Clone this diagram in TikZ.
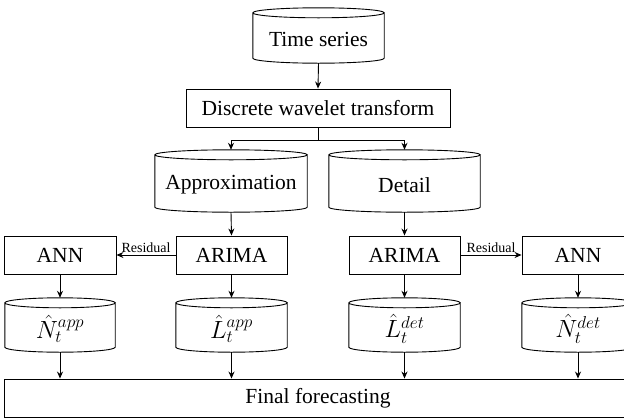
\documentclass[tikz,border=0pt]{standalone}
\usepackage{fontspec}
\setmainfont{Liberation Serif}
\usetikzlibrary{arrows.meta,calc}
\newcommand\cylt[1]{\raisebox{-4pt}[\height][\depth]{#1}}
\newcommand\mth[1]{\raisebox{-4pt}[\height][\depth]{\fontsize{23}{27}\selectfont$#1$}}
\newcommand\cylout[1]{%
  \draw[line width=0.9pt] let \p1=(#1.north west),\p2=(#1.south east),\n1={(\x2-\x1)/2} in
    (\x1,{\y1-5pt}) arc[start angle=180,end angle=540,x radius=\n1,y radius=5pt]
    -- (\x1,{\y2+5pt}) arc[start angle=180,end angle=360,x radius=\n1,y radius=5pt]
    -- (\x2,{\y1-5pt});}
\tikzset{
  big/.style={font=\fontsize{21.5}{25}\selectfont},
  boxnode/.style={big,draw,line width=0.9pt,inner sep=0pt,minimum height=38pt},
  cylnode/.style={big,inner sep=0pt},
  arr/.style={line width=0.9pt,-{Stealth[length=7pt,width=6pt]}},
  resid/.style={font=\fontsize{14}{16}\selectfont,above,inner sep=2pt}
}
\begin{document}
\begin{tikzpicture}[x=1pt,y=-1pt]
\useasboundingbox (0,0) rectangle (624,418);
\clip (0,0) rectangle (624,418);
% cylinders
\node[cylnode,minimum width=131pt,minimum height=55pt] (ts) at (318.5,35.5) {\cylt{Time series}};
\node[cylnode,minimum width=152pt,minimum height=62pt] (appr) at (231,181) {\cylt{Approximation}};
\node[cylnode,minimum width=151pt,minimum height=62pt] (det) at (404.5,181) {\cylt{Detail}};
\node[cylnode,minimum width=110pt,minimum height=54pt] (napp) at (60,325) {\mth{\hat{N}_t^{app}}};
\node[cylnode,minimum width=111pt,minimum height=54pt] (lapp) at (231.5,325) {\mth{\hat{L}_t^{app}}};
\node[cylnode,minimum width=111pt,minimum height=54pt] (ldet) at (404.5,325) {\mth{\hat{L}_t^{det}}};
\node[cylnode,minimum width=112pt,minimum height=54pt] (ndet) at (578,325) {\mth{\hat{N}_t^{det}}};
\cylout{ts}\cylout{appr}\cylout{det}\cylout{napp}\cylout{lapp}\cylout{ldet}\cylout{ndet}
% boxes
\node[boxnode,minimum width=264pt] (dwt) at (318,108) {Discrete wavelet transform};
\node[boxnode,minimum width=111pt] (ar1) at (231.5,255) {ARIMA};
\node[boxnode,minimum width=112pt] (ann1) at (60,255) {ANN};
\node[boxnode,minimum width=111pt] (ar2) at (404.5,255) {ARIMA};
\node[boxnode,minimum width=112pt] (ann2) at (578,255) {ANN};
\node[boxnode,minimum width=628pt] (fin) at (318,398) {Final forecasting};
% connectors
\draw[arr] (ts.south) -- (dwt.north);
\draw[arr] (dwt.south) -- ++(0,13) -| (appr.north);
\draw[arr] (dwt.south) -- ++(0,13) -| (det.north);
\draw[arr] (appr.south) -- (ar1.north);
\draw[arr] (det.south) -- (ar2.north);
\draw[arr] (ar1.west) -- node[resid] {Residual} (ann1.east);
\draw[arr] (ar2.east) -- node[resid] {Residual} (ann2.west);
\draw[arr] (ann1.south) -- (napp.north);
\draw[arr] (ar1.south) -- (lapp.north);
\draw[arr] (ar2.south) -- (ldet.north);
\draw[arr] (ann2.south) -- (ndet.north);
\draw[arr] (napp.south) -- (napp.south |- fin.north);
\draw[arr] (lapp.south) -- (lapp.south |- fin.north);
\draw[arr] (ldet.south) -- (ldet.south |- fin.north);
\draw[arr] (ndet.south) -- (ndet.south |- fin.north);
\end{tikzpicture}
\end{document}
